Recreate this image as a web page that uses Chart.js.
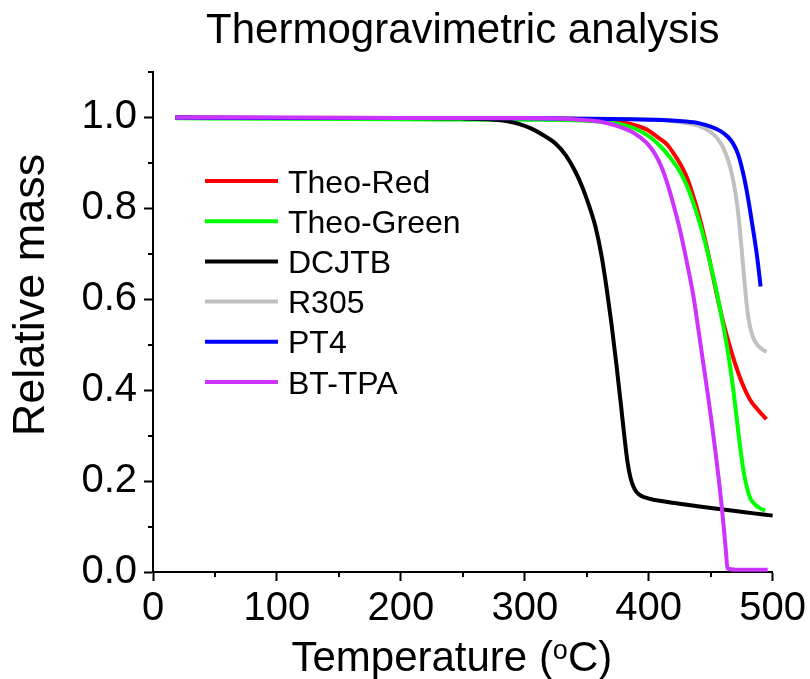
<!DOCTYPE html>
<html>
<head>
<meta charset="utf-8">
<title>Thermogravimetric analysis</title>
<script src="https://cdn.jsdelivr.net/npm/chart.js@4.4.0/dist/chart.umd.min.js"></script>
<style>
  html, body { margin: 0; padding: 0; background: #fff; }
  #tga { display: block; }
</style>
</head>
<body>
<canvas id="tga" width="810" height="679"></canvas>
<script>
// TGA curves: temperature (°C) and relative mass
const redTemp   = [18, 100, 200, 300, 350, 375, 390, 400, 408, 415, 421, 427, 432, 437, 442, 447, 452, 457, 462, 467, 472, 477, 482, 488, 495];
const redMass   = [1.0, 0.999, 0.998, 0.998, 0.996, 0.992, 0.982, 0.971, 0.955, 0.94, 0.917, 0.89, 0.86, 0.818, 0.77, 0.713, 0.648, 0.585, 0.53, 0.482, 0.44, 0.405, 0.378, 0.357, 0.336];

const greenTemp = [18, 100, 200, 300, 350, 375, 390, 401, 410, 417, 424, 430, 436, 442, 448, 454, 460, 465, 469, 472, 474.5, 477, 479.5, 482, 486, 490, 494];
const greenMass = [0.998, 0.997, 0.996, 0.995, 0.993, 0.986, 0.974, 0.957, 0.935, 0.913, 0.886, 0.855, 0.812, 0.76, 0.698, 0.627, 0.545, 0.465, 0.385, 0.315, 0.26, 0.215, 0.183, 0.162, 0.148, 0.14, 0.135];

const dcjtbTemp = [18, 100, 200, 250, 270, 285, 295, 305, 315, 325, 333, 340, 346, 352, 357, 362, 366, 370, 374, 377.5, 380.5, 383, 385.5, 388.5, 392, 397, 404, 415, 428, 441, 455, 470, 485, 500];
const dcjtbMass = [1.0, 0.999, 0.999, 0.998, 0.996, 0.992, 0.986, 0.976, 0.961, 0.942, 0.917, 0.885, 0.85, 0.805, 0.76, 0.695, 0.625, 0.545, 0.455, 0.37, 0.295, 0.24, 0.205, 0.183, 0.171, 0.164, 0.159, 0.154, 0.149, 0.144, 0.139, 0.134, 0.129, 0.124];

const r305Temp  = [18, 100, 200, 300, 400, 425, 440, 450, 457, 462, 466, 469, 471.5, 473.5, 475.5, 477.5, 479.5, 481.5, 484, 487, 491, 495];
const r305Mass  = [1.0, 1.0, 0.999, 0.998, 0.996, 0.99, 0.982, 0.968, 0.948, 0.922, 0.888, 0.85, 0.805, 0.755, 0.695, 0.632, 0.578, 0.543, 0.518, 0.502, 0.491, 0.484];

const pt4Temp   = [18, 100, 200, 300, 400, 430, 441, 450, 458, 464, 468, 472, 476, 479, 482, 485, 487.5, 490.3];
const pt4Mass   = [1.0, 0.999, 0.999, 0.998, 0.995, 0.991, 0.987, 0.98, 0.97, 0.957, 0.943, 0.92, 0.88, 0.84, 0.792, 0.74, 0.693, 0.628];

const bttpaTemp = [18, 100, 200, 300, 340, 360, 375, 388, 398, 405, 410, 415, 420, 425, 430, 436, 440, 444, 448, 451, 454, 456.5, 458.5, 460.5, 462.5, 463.5, 470, 480, 496];
const bttpaMass = [1.0, 1.0, 0.999, 0.999, 0.996, 0.991, 0.981, 0.966, 0.945, 0.92, 0.893, 0.855, 0.808, 0.755, 0.692, 0.608, 0.535, 0.46, 0.385, 0.325, 0.262, 0.205, 0.155, 0.1, 0.04, 0.008, 0.005, 0.005, 0.005];

const seriesNames = ['Theo-Red', 'Theo-Green', 'DCJTB', 'R305', 'PT4', 'BT-TPA'];

// axis ticks
const xMajorTicks = [0, 100, 200, 300, 400, 500];
const xMinorTicks = [50, 150, 250, 350, 450];
const yMajorTicks = [0, 0.2, 0.4, 0.6, 0.8, 1.0];
const yMinorTicks = [0.1, 0.3, 0.5, 0.7, 0.9, 1.1];

// styles
const seriesColors = ['#ff0000', '#00ff00', '#000000', '#c0c0c0', '#0000ff', '#cc33ff'];
const FONT = '"Liberation Sans", Arial, Helvetica, sans-serif';

const toPoints = (t, m) => t.map((v, i) => ({ x: v, y: m[i] }));
const seriesData = [
    toPoints(redTemp, redMass),
    toPoints(greenTemp, greenMass),
    toPoints(dcjtbTemp, dcjtbMass),
    toPoints(r305Temp, r305Mass),
    toPoints(pt4Temp, pt4Mass),
    toPoints(bttpaTemp, bttpaMass)
];

// last series drawn on top, like the original plot
const datasets = seriesNames.map((name, i) => ({
    label: name,
    data: seriesData[i],
    borderColor: seriesColors[i],
    backgroundColor: seriesColors[i],
    borderWidth: 4,
    borderCapStyle: 'butt',
    pointRadius: 0,
    cubicInterpolationMode: 'monotone',
    clip: false,
    order: seriesNames.length - 1 - i
}));

// short outward minor ticks on both axes
const minorTicksPlugin = {
    id: 'minorTicks',
    afterDraw(chart) {
        const { ctx, scales: { x, y } } = chart;
        ctx.save();
        ctx.strokeStyle = '#000';
        ctx.lineWidth = 2;
        ctx.beginPath();
        xMinorTicks.forEach(v => {
            const px = Math.round(x.getPixelForValue(v));
            ctx.moveTo(px, x.top);
            ctx.lineTo(px, x.top + 5);
        });
        yMinorTicks.forEach(v => {
            const py = Math.round(y.getPixelForValue(v));
            ctx.moveTo(y.right, py);
            ctx.lineTo(y.right - 5, py);
        });
        ctx.stroke();
        ctx.restore();
    }
};

// chart title, axis titles (with superscript o) and legend inside the plot
const labelsPlugin = {
    id: 'labels',
    afterDraw(chart) {
        const { ctx, chartArea: a } = chart;
        const cx = (a.left + a.right) / 2;
        ctx.save();
        ctx.fillStyle = '#000';

        // title
        ctx.font = `42px ${FONT}`;
        ctx.textAlign = 'center';
        ctx.textBaseline = 'alphabetic';
        ctx.fillText('Thermogravimetric analysis', cx, a.top - 29);

        // x title: Temperature (ᵒC)
        const big = `42px ${FONT}`, small = `27px ${FONT}`;
        ctx.textAlign = 'left';
        ctx.font = big;
        const p1 = 'Temperature (', p3 = 'C)';
        const w1 = ctx.measureText(p1).width, w3 = ctx.measureText(p3).width;
        ctx.font = small;
        const w2 = ctx.measureText('o').width;
        let tx = cx - 11 - (w1 + w2 + w3) / 2;
        const base = a.bottom + 99;
        ctx.font = big;
        ctx.fillText(p1, tx, base);
        tx += w1;
        ctx.font = small;
        ctx.fillText('o', tx, base - 12);
        tx += w2;
        ctx.font = big;
        ctx.fillText(p3, tx, base);

        // y title
        ctx.save();
        ctx.translate(44, a.top + 223);
        ctx.rotate(-Math.PI / 2);
        ctx.font = `45px ${FONT}`;
        ctx.textAlign = 'center';
        ctx.fillText('Relative mass', 0, 0);
        ctx.restore();

        // legend
        const lx = a.left + 52, ly = a.top + 109, row = 40.2;
        ctx.font = `32px ${FONT}`;
        ctx.textAlign = 'left';
        chart.data.datasets.forEach((ds, i) => {
            const yy = ly + i * row;
            ctx.strokeStyle = ds.borderColor;
            ctx.lineWidth = 4;
            ctx.beginPath();
            ctx.moveTo(lx, yy);
            ctx.lineTo(lx + 73, yy);
            ctx.stroke();
            ctx.fillText(ds.label, lx + 83, yy + 11.5);
        });
        ctx.restore();
    }
};

const isMajor = (list, v) => list.some(t => Math.abs(t - v) < 1e-9);

function initChart() {
    const canvas = document.getElementById('tga');
    new Chart(canvas.getContext('2d'), {
        type: 'line',
        data: { datasets },
        options: {
            responsive: false,
            animation: false,
            layout: { padding: { top: 72, right: 37, bottom: 0, left: 0 } },
            plugins: {
                legend: { display: false },
                title: { display: false },
                tooltip: { enabled: false }
            },
            scales: {
                x: {
                    type: 'linear',
                    min: 0,
                    max: 500,
                    afterBuildTicks: s => { s.ticks = xMajorTicks.map(v => ({ value: v })); },
                    afterFit: s => { s.height = 107; },
                    border: { display: true, color: '#000', width: 2 },
                    grid: { drawOnChartArea: false, drawTicks: true, tickLength: 9, tickWidth: 2, tickColor: '#000' },
                    ticks: { color: '#000', padding: 4, maxRotation: 0, font: { family: FONT, size: 40 }, callback: v => String(v) }
                },
                y: {
                    type: 'linear',
                    min: 0,
                    max: 1.1,
                    afterBuildTicks: s => { s.ticks = yMajorTicks.map(v => ({ value: v })); },
                    afterFit: s => { s.width = 153; },
                    border: { display: true, color: '#000', width: 2 },
                    grid: { drawOnChartArea: false, drawTicks: true, tickLength: 9, tickWidth: 2, tickColor: '#000' },
                    ticks: { color: '#000', padding: 7, font: { family: FONT, size: 40 },
                             callback: v => isMajor(yMajorTicks, v) ? v.toFixed(1) : '' }
                }
            }
        },
        plugins: [minorTicksPlugin, labelsPlugin]
    });
}

document.addEventListener('DOMContentLoaded', initChart);
</script>
</body>
</html>
